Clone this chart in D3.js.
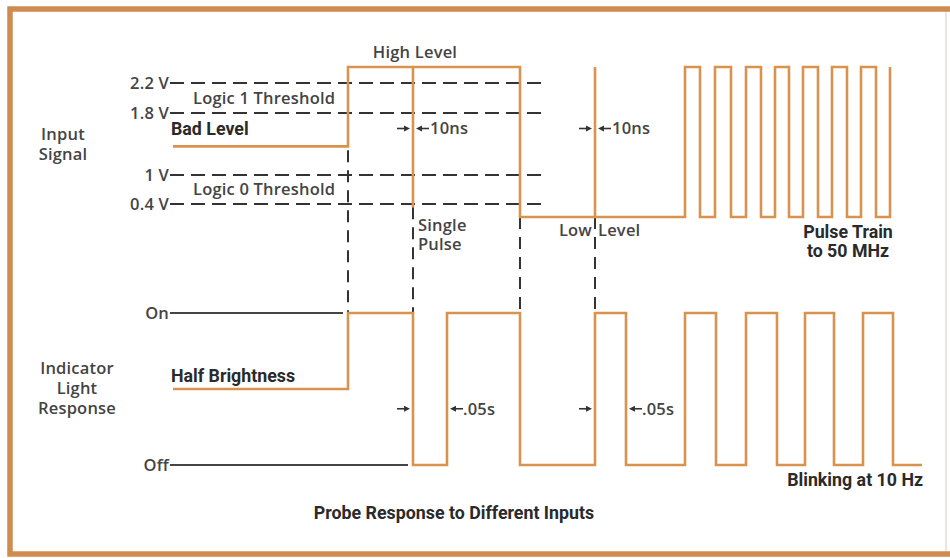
<!DOCTYPE html>
<html>
<head>
<meta charset="utf-8">
<script src="https://cdn.jsdelivr.net/npm/d3@7"></script>
<style>
  html, body { margin: 0; padding: 0; background: #ffffff; }
  svg { display: block; }
  .reg { font-family: "Open Sans", "Noto Sans", sans-serif; font-size: 16.5px; font-weight: 600; letter-spacing: 0.2px; fill: #444444; }
  .bold { font-family: "Roboto", "Liberation Sans", sans-serif; font-size: 17.8px; font-weight: 700; fill: #2a2a2a; }
</style>
</head>
<body>
<svg id="chart" width="950" height="558"></svg>
<script>
// ---------------- data (schematic time units 0..150, levels) ----------------
// Input signal: step times and the level held after each time
const inputTimes  = [0, 35, 69.4, 102.4, 105.4, 108.4, 111.6, 114.6, 117.6, 120.4, 123.2, 126, 129, 131.8, 134.8, 137.6, 140.6, 143.4];
const inputLevels = [1.37, 3, 0, 3, 0, 3, 0, 3, 0, 3, 0, 3, 0, 3, 0, 3, 0, 3];
// Narrow spikes on the input signal (10 ns)
const singlePulse = { t: 48, from: 3, to: 0.3 };
const lowSpike    = { t: 84.4, from: 0, to: 3 };

// Indicator light response: step times and brightness held after each time
const outputTimes  = [0, 35, 48, 54.8, 69.4, 84.4, 90.6, 102.4, 108.6, 114.6, 120.8, 126.4, 132.2, 138, 144, 149.8];
const outputLevels = [0.5, 1, 0, 1, 0, 1, 0, 1, 0, 1, 0, 1, 0, 1, 0, 0];

// Threshold tick labels (volts)
const thresholdValues = [2.2, 1.8, 1, 0.4];
const thresholdLabels = ["2.2 V", "1.8 V", "1 V", "0.4 V"];
const thresholdEnd = 74.4;

// Vertical dashed markers linking input edges to the response
const markerTimes  = [35, 48, 69.4, 84.4];
const markerStarts = [1.32, 0.3, 0, 0];

// Reference lines on the response panel
const onLineEnd  = 34;
const offLineEnd = 47;

// Timing annotations: [edge before, edge after, text]
const nsMarks  = [[48, 48, "10ns"], [84.4, 84.4, "10ns"]];
const secMarks = [[48, 54.8, ".05s"], [84.4, 90.6, ".05s"]];

// ---------------- scales ----------------
const svg = d3.select("#chart");
const x = d3.scaleLinear().domain([0, 150]).range([173, 923]);
const yIn = d3.scaleLinear().domain([0, 0.4, 1, 1.8, 2.2, 3]).range([217, 204, 175, 113, 83, 67]);
const yOut = d3.scaleLinear().domain([0, 1]).range([465, 313]);

const ORANGE = "#d9934f";
const INK = "#333333";

// ---------------- frame ----------------
svg.append("line").attr("x1", 946).attr("x2", 946).attr("y1", 8).attr("y2", 556)
  .attr("stroke", "#f3e2dc").attr("stroke-width", 2);
svg.append("path")
  .attr("d", "M950,9 L10,9 L10,554 L950,554")
  .attr("fill", "none").attr("stroke", "#cf8c50").attr("stroke-width", 5.5);

// ---------------- threshold dashed lines ----------------
const th = svg.append("g");
th.selectAll("line").data(thresholdValues).join("line")
  .attr("x1", x(-0.6)).attr("x2", x(thresholdEnd))
  .attr("y1", d => yIn(d)).attr("y2", d => yIn(d))
  .attr("stroke", INK).attr("stroke-width", 2).attr("stroke-dasharray", "14,7");
th.selectAll("text").data(thresholdLabels).join("text")
  .attr("class", "reg")
  .attr("x", x(-0.6) - 1).attr("y", (d, i) => yIn(thresholdValues[i]))
  .attr("dy", "0.35em").attr("text-anchor", "end").text(d => d);

// ---------------- On / Off reference lines ----------------
svg.append("line").attr("x1", x(-0.6)).attr("x2", x(onLineEnd))
  .attr("y1", yOut(1)).attr("y2", yOut(1)).attr("stroke", "#444").attr("stroke-width", 2);
svg.append("line").attr("x1", x(-0.6)).attr("x2", x(offLineEnd))
  .attr("y1", yOut(0)).attr("y2", yOut(0)).attr("stroke", "#444").attr("stroke-width", 2);

// ---------------- vertical dashed markers ----------------
svg.append("g").selectAll("line").data(markerTimes).join("line")
  .attr("x1", d => x(d)).attr("x2", d => x(d))
  .attr("y1", (d, i) => yIn(markerStarts[i])).attr("y2", yOut(1))
  .attr("stroke", INK).attr("stroke-width", 2).attr("stroke-dasharray", "12,8");

// ---------------- waveforms ----------------
const stepLine = (yS) => d3.line().x(d => x(d[0])).y(d => yS(d[1])).curve(d3.curveStepAfter);
svg.append("path")
  .datum(inputTimes.map((t, i) => [t, inputLevels[i]]))
  .attr("d", stepLine(yIn))
  .attr("fill", "none").attr("stroke", ORANGE).attr("stroke-width", 2.6);
[singlePulse, lowSpike].forEach(s => {
  svg.append("line").attr("x1", x(s.t)).attr("x2", x(s.t))
    .attr("y1", yIn(s.from)).attr("y2", yIn(s.to))
    .attr("stroke", ORANGE).attr("stroke-width", 2.6);
});
svg.append("path")
  .datum(outputTimes.map((t, i) => [t, outputLevels[i]]))
  .attr("d", stepLine(yOut))
  .attr("fill", "none").attr("stroke", ORANGE).attr("stroke-width", 2.6);

// ---------------- arrows ----------------
function arrow(x0, x1, y) {
  const dir = Math.sign(x1 - x0);
  svg.append("line").attr("x1", x0).attr("x2", x1 - dir * 4).attr("y1", y).attr("y2", y)
    .attr("stroke", INK).attr("stroke-width", 1.6);
  svg.append("path")
    .attr("d", `M${x1},${y} L${x1 - dir * 6},${y - 3} L${x1 - dir * 6},${y + 3} Z`)
    .attr("fill", INK);
}
function timing(marks, y, arrowLen, gap) {
  marks.forEach(([t0, t1, label]) => {
    arrow(x(t0) - 3 - arrowLen, x(t0) - 3, y);
    arrow(x(t1) + 3 + arrowLen, x(t1) + 3, y);
    svg.append("text").attr("class", "reg").attr("x", x(t1) + 3 + arrowLen + gap)
      .attr("y", y).attr("dy", "0.35em").text(label);
  });
}
timing(nsMarks, yIn(1.6), 13, 1);
timing(secMarks, yOut(0.37), 13, 0);

// ---------------- labels ----------------
function label(cls, txt, px, py, anchor) {
  svg.append("text").attr("class", cls).attr("x", px).attr("y", py)
    .attr("dy", "0.35em").attr("text-anchor", anchor || "start").text(txt);
}
label("reg", "Input", 63, 134, "middle");
label("reg", "Signal", 63, 154, "middle");
label("reg", "High Level", x(48.4), yIn(3) - 15, "middle");
label("reg", "Logic 1  Threshold", x(4), yIn(2.0), "start");
label("bold", "Bad Level", x(-0.4), yIn(1.6), "start");
label("reg", "Logic 0  Threshold", x(4), yIn(0.7), "start");
label("reg", "Single", x(49), yIn(0) + 8, "start");
label("reg", "Pulse", x(49), yIn(0) + 27, "start");
label("reg", "Low", x(84.4) - 3, yIn(0) + 13, "end");
label("reg", "Level", x(84.4) + 3, yIn(0) + 13, "start");
label("bold", "Pulse Train", x(135), yIn(0) + 15, "middle");
label("bold", "to 50 MHz", x(135), yIn(0) + 34, "middle");

label("reg", "On", x(-0.6) - 1, yOut(1), "end");
label("reg", "Off", x(-0.6) - 1, yOut(0), "end");
label("reg", "Indicator", 77, 368, "middle");
label("reg", "Light", 77, 388, "middle");
label("reg", "Response", 77, 408, "middle");
label("bold", "Half Brightness", x(-0.4), yOut(0.5) - 13, "start");
label("bold", "Blinking at 10 Hz", x(150), yOut(0) + 15, "end");
label("bold", "Probe Response to Different Inputs", 454, 513, "middle");
</script>
</body>
</html>
